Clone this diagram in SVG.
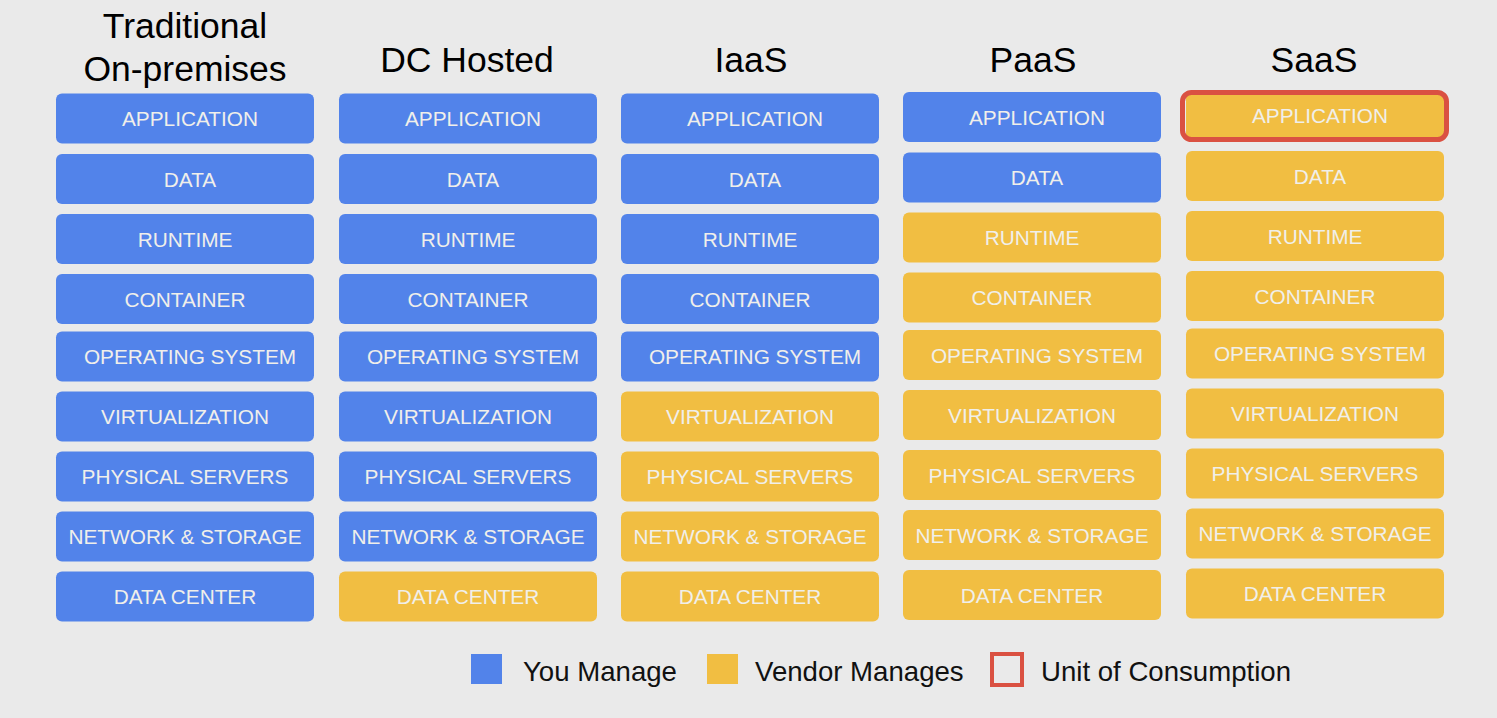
<svg xmlns="http://www.w3.org/2000/svg" width="1497" height="718" viewBox="0 0 1497 718">
<style>
.bg{fill:#eaeaea}
.you{fill:#5283ea}
.ven{fill:#f1be42}
.lbl{font-family:"Liberation Sans",Arial,sans-serif;font-size:20.8px;fill:#f0efea;text-anchor:middle}
.ttl{font-family:"Liberation Sans",Arial,sans-serif;font-size:35.5px;fill:#000;text-anchor:middle}
.leg{font-family:"Liberation Sans",Arial,sans-serif;font-size:27.6px;fill:#111}
.unit{fill:none;stroke:#da5142;stroke-width:5}
</style>
<rect class="bg" x="0" y="0" width="1497" height="718"/>
<g id="titles">
<text class="ttl" x="185" y="38">Traditional</text>
<text class="ttl" x="185" y="81">On-premises</text>
<text class="ttl" x="467" y="72">DC Hosted</text>
<text class="ttl" x="751" y="72">IaaS</text>
<text class="ttl" x="1033" y="72">PaaS</text>
<text class="ttl" x="1314" y="72">SaaS</text>
</g>
<g id="col-traditional">
<g id="trad-app"><rect class="you" x="56" y="93.5" width="258" height="50" rx="6"/><text class="lbl" x="190" y="126">APPLICATION</text></g>
<g id="trad-data"><rect class="you" x="56" y="154" width="258" height="50" rx="6"/><text class="lbl" x="190" y="186.5">DATA</text></g>
<g id="trad-runtime"><rect class="you" x="56" y="214" width="258" height="50" rx="6"/><text class="lbl" x="185" y="246.5">RUNTIME</text></g>
<g id="trad-container"><rect class="you" x="56" y="274" width="258" height="50" rx="6"/><text class="lbl" x="185" y="306.5">CONTAINER</text></g>
<g id="trad-os"><rect class="you" x="56" y="331.5" width="258" height="50" rx="6"/><text class="lbl" x="190" y="364">OPERATING SYSTEM</text></g>
<g id="trad-virt"><rect class="you" x="56" y="391.5" width="258" height="50" rx="6"/><text class="lbl" x="185" y="424">VIRTUALIZATION</text></g>
<g id="trad-phys"><rect class="you" x="56" y="451.5" width="258" height="50" rx="6"/><text class="lbl" x="185" y="484">PHYSICAL SERVERS</text></g>
<g id="trad-net"><rect class="you" x="56" y="511.5" width="258" height="50" rx="6"/><text class="lbl" x="185" y="544">NETWORK &amp; STORAGE</text></g>
<g id="trad-dc"><rect class="you" x="56" y="571.5" width="258" height="50" rx="6"/><text class="lbl" x="185" y="604">DATA CENTER</text></g>
</g>
<g id="col-dchosted">
<g id="dch-app"><rect class="you" x="339" y="93.5" width="258" height="50" rx="6"/><text class="lbl" x="473" y="126">APPLICATION</text></g>
<g id="dch-data"><rect class="you" x="339" y="154" width="258" height="50" rx="6"/><text class="lbl" x="473" y="186.5">DATA</text></g>
<g id="dch-runtime"><rect class="you" x="339" y="214" width="258" height="50" rx="6"/><text class="lbl" x="468" y="246.5">RUNTIME</text></g>
<g id="dch-container"><rect class="you" x="339" y="274" width="258" height="50" rx="6"/><text class="lbl" x="468" y="306.5">CONTAINER</text></g>
<g id="dch-os"><rect class="you" x="339" y="331.5" width="258" height="50" rx="6"/><text class="lbl" x="473" y="364">OPERATING SYSTEM</text></g>
<g id="dch-virt"><rect class="you" x="339" y="391.5" width="258" height="50" rx="6"/><text class="lbl" x="468" y="424">VIRTUALIZATION</text></g>
<g id="dch-phys"><rect class="you" x="339" y="451.5" width="258" height="50" rx="6"/><text class="lbl" x="468" y="484">PHYSICAL SERVERS</text></g>
<g id="dch-net"><rect class="you" x="339" y="511.5" width="258" height="50" rx="6"/><text class="lbl" x="468" y="544">NETWORK &amp; STORAGE</text></g>
<g id="dch-dc"><rect class="ven" x="339" y="571.5" width="258" height="50" rx="6"/><text class="lbl" x="468" y="604">DATA CENTER</text></g>
</g>
<g id="col-iaas">
<g id="iaas-app"><rect class="you" x="621" y="93.5" width="258" height="50" rx="6"/><text class="lbl" x="755" y="126">APPLICATION</text></g>
<g id="iaas-data"><rect class="you" x="621" y="154" width="258" height="50" rx="6"/><text class="lbl" x="755" y="186.5">DATA</text></g>
<g id="iaas-runtime"><rect class="you" x="621" y="214" width="258" height="50" rx="6"/><text class="lbl" x="750" y="246.5">RUNTIME</text></g>
<g id="iaas-container"><rect class="you" x="621" y="274" width="258" height="50" rx="6"/><text class="lbl" x="750" y="306.5">CONTAINER</text></g>
<g id="iaas-os"><rect class="you" x="621" y="331.5" width="258" height="50" rx="6"/><text class="lbl" x="755" y="364">OPERATING SYSTEM</text></g>
<g id="iaas-virt"><rect class="ven" x="621" y="391.5" width="258" height="50" rx="6"/><text class="lbl" x="750" y="424">VIRTUALIZATION</text></g>
<g id="iaas-phys"><rect class="ven" x="621" y="451.5" width="258" height="50" rx="6"/><text class="lbl" x="750" y="484">PHYSICAL SERVERS</text></g>
<g id="iaas-net"><rect class="ven" x="621" y="511.5" width="258" height="50" rx="6"/><text class="lbl" x="750" y="544">NETWORK &amp; STORAGE</text></g>
<g id="iaas-dc"><rect class="ven" x="621" y="571.5" width="258" height="50" rx="6"/><text class="lbl" x="750" y="604">DATA CENTER</text></g>
</g>
<g id="col-paas">
<g id="paas-app"><rect class="you" x="903" y="92" width="258" height="50" rx="6"/><text class="lbl" x="1037" y="124.5">APPLICATION</text></g>
<g id="paas-data"><rect class="you" x="903" y="152.5" width="258" height="50" rx="6"/><text class="lbl" x="1037" y="185">DATA</text></g>
<g id="paas-runtime"><rect class="ven" x="903" y="212.5" width="258" height="50" rx="6"/><text class="lbl" x="1032" y="245">RUNTIME</text></g>
<g id="paas-container"><rect class="ven" x="903" y="272.5" width="258" height="50" rx="6"/><text class="lbl" x="1032" y="305">CONTAINER</text></g>
<g id="paas-os"><rect class="ven" x="903" y="330" width="258" height="50" rx="6"/><text class="lbl" x="1037" y="362.5">OPERATING SYSTEM</text></g>
<g id="paas-virt"><rect class="ven" x="903" y="390" width="258" height="50" rx="6"/><text class="lbl" x="1032" y="422.5">VIRTUALIZATION</text></g>
<g id="paas-phys"><rect class="ven" x="903" y="450" width="258" height="50" rx="6"/><text class="lbl" x="1032" y="482.5">PHYSICAL SERVERS</text></g>
<g id="paas-net"><rect class="ven" x="903" y="510" width="258" height="50" rx="6"/><text class="lbl" x="1032" y="542.5">NETWORK &amp; STORAGE</text></g>
<g id="paas-dc"><rect class="ven" x="903" y="570" width="258" height="50" rx="6"/><text class="lbl" x="1032" y="602.5">DATA CENTER</text></g>
</g>
<g id="col-saas">
<g id="saas-app"><rect class="ven" x="1186" y="90.5" width="258" height="50" rx="6"/><rect class="unit" x="1182.5" y="92.5" width="264" height="47" rx="9"/><text class="lbl" x="1320" y="123">APPLICATION</text></g>
<g id="saas-data"><rect class="ven" x="1186" y="151" width="258" height="50" rx="6"/><text class="lbl" x="1320" y="183.5">DATA</text></g>
<g id="saas-runtime"><rect class="ven" x="1186" y="211" width="258" height="50" rx="6"/><text class="lbl" x="1315" y="243.5">RUNTIME</text></g>
<g id="saas-container"><rect class="ven" x="1186" y="271" width="258" height="50" rx="6"/><text class="lbl" x="1315" y="303.5">CONTAINER</text></g>
<g id="saas-os"><rect class="ven" x="1186" y="328.5" width="258" height="50" rx="6"/><text class="lbl" x="1320" y="361">OPERATING SYSTEM</text></g>
<g id="saas-virt"><rect class="ven" x="1186" y="388.5" width="258" height="50" rx="6"/><text class="lbl" x="1315" y="421">VIRTUALIZATION</text></g>
<g id="saas-phys"><rect class="ven" x="1186" y="448.5" width="258" height="50" rx="6"/><text class="lbl" x="1315" y="481">PHYSICAL SERVERS</text></g>
<g id="saas-net"><rect class="ven" x="1186" y="508.5" width="258" height="50" rx="6"/><text class="lbl" x="1315" y="541">NETWORK &amp; STORAGE</text></g>
<g id="saas-dc"><rect class="ven" x="1186" y="568.5" width="258" height="50" rx="6"/><text class="lbl" x="1315" y="601">DATA CENTER</text></g>
</g>
<g id="connectors"></g>
<g id="legend">
<rect class="you" x="471" y="654" width="31" height="30"/>
<text class="leg" x="523" y="681">You Manage</text>
<rect class="ven" x="707" y="654" width="31" height="30"/>
<text class="leg" x="755" y="681">Vendor Manages</text>
<rect x="992" y="654" width="30" height="31" fill="none" stroke="#da5142" stroke-width="4"/>
<text class="leg" x="1041" y="681">Unit of Consumption</text>
</g>
</svg>
